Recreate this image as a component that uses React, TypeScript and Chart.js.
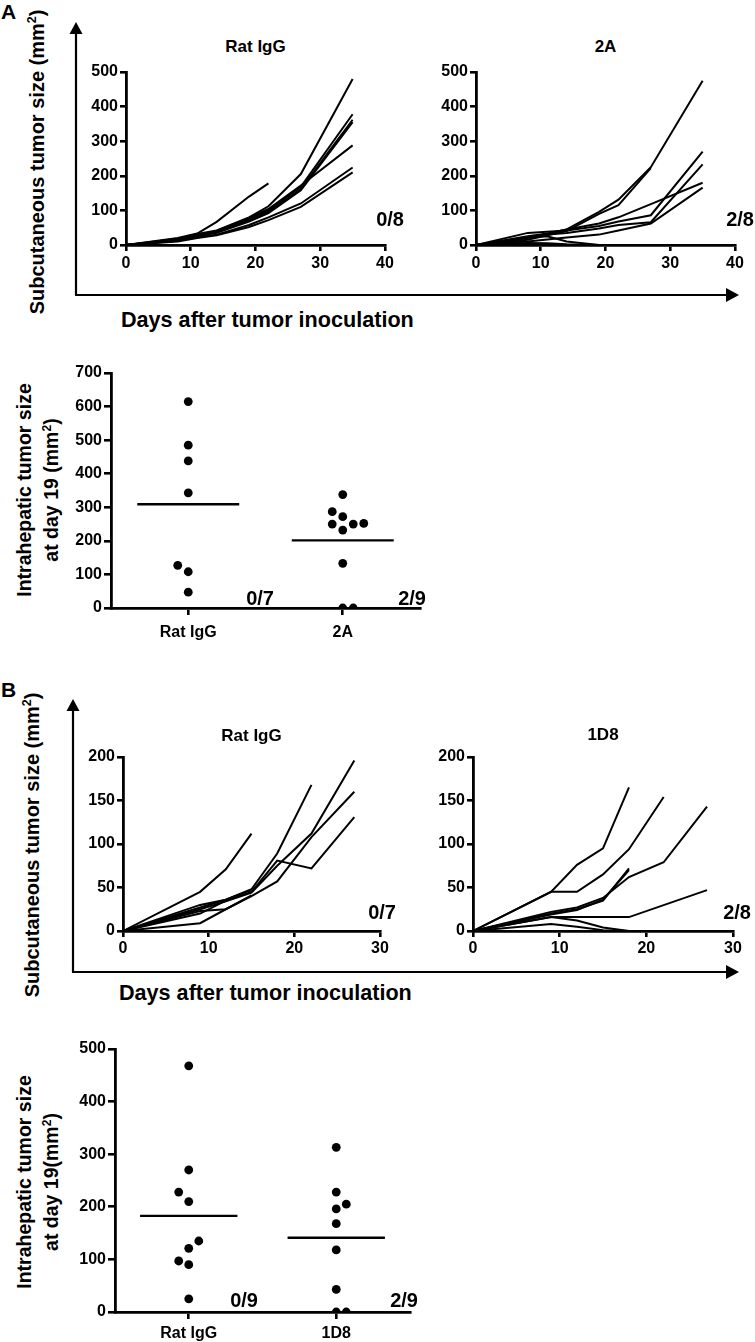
import React, { useEffect, useRef } from 'react';
import { Chart, registerables } from 'chart.js';

Chart.register(...registerables);

const FONT = '"Liberation Sans", Arial, Helvetica, sans-serif';

// ---------------- Panel A : subcutaneous growth ----------------
const A_DAYS = [0, 8, 11, 14, 19, 22, 27, 35];
const A_X_TICKS = [0, 10, 20, 30, 40];
const A_Y_TICKS = [0, 100, 200, 300, 400, 500];
const A_RATIGG_MICE: (number | null)[][] = [
  [0, 18, 32, 42, 80, 112, 205, 480],
  [0, 15, 28, 38, 75, 100, 168, 378],
  [0, 14, 26, 36, 72, 96, 162, 362],
  [0, 13, 25, 35, 68, 92, 158, 355],
  [0, 16, 29, 40, 78, 104, 172, 288],
  [0, 12, 22, 30, 58, 80, 120, 224],
  [0, 10, 20, 28, 52, 72, 110, 210],
  [0, 20, 33, 67, 140, 178],
];
const A_2A_MICE: (number | null)[][] = [
  [0, 22, 32, 45, 96, 131, 225, 475],
  [0, 15, 28, 40, 90, 115, 222],
  [0, 35, 38, 42, 55, 68, 86, 270],
  [0, 20, 30, 35, 48, 58, 66, 233],
  [0, 10, 16, 22, 30, 42, 62, 166],
  [0, 25, 33, 45, 62, 80, 118, 180],
  [0, 22, 25, 10, 0],
  [0, 6, 5, 2, 0],
];
const A_TITLES = ['Rat IgG', '2A'];
const A_FREE = ['0/8', '2/8'];

// ---------------- Panel A : intrahepatic day 19 ----------------
const AS_GROUPS = ['Rat IgG', '2A'];
const AS_Y_TICKS = [0, 100, 200, 300, 400, 500, 600, 700];
const AS_RATIGG = [615, 485, 438, 343, 127, 108, 47];
const AS_RATIGG_COL = [0, 0, 0, 0, -1, 0, 0];
const AS_2A = [338, 287, 272, 250, 250, 252, 232, 133, 0, 0];
const AS_2A_COL = [0, -1, 0, -1, 1, 2, 0, 0, 0, 1];
const AS_FREE = ['0/7', '2/9'];

// ---------------- Panel B : subcutaneous growth ----------------
const B_DAYS = [0, 9, 12, 15, 18, 22, 27];
const B_X_TICKS = [0, 10, 20, 30];
const B_Y_TICKS = [0, 50, 100, 150, 200];
const B_RATIGG_MICE: (number | null)[][] = [
  [0, 45, 71, 112],
  [0, 30, 36, 48, 89, 168],
  [0, 25, 34, 44, 75, 112, 196],
  [0, 23, 25, 40, 57, 108, 160],
  [0, 20, 35, 45, 81, 72, 131],
  [0, 9, 25, 41],
  [0, 27, 36, 47],
];
const B_1D8_MICE: (number | null)[][] = [
  [0, 45, 76, 95, 165],
  [0, 45, 45, 65, 94, 154],
  [0, 22, 27, 38, 62, 79, 143],
  [0, 20, 25, 35, 72],
  [0, 16, 16, 16, 16, null, 47],
  [0, 19, 24, 36, 70],
  [0, 8, 5, 1, 0],
  [0, 16, 12, 4, 0],
];
const B_TITLES = ['Rat IgG', '1D8'];
const B_FREE = ['0/7', '2/8'];

// ---------------- Panel B : intrahepatic day 19 ----------------
const BS_GROUPS = ['Rat IgG', '1D8'];
const BS_Y_TICKS = [0, 100, 200, 300, 400, 500];
const BS_RATIGG = [468, 270, 228, 210, 135, 121, 97, 90, 25];
const BS_RATIGG_COL = [0, 0, -1, 0, 1, 0, -1, 0, 0];
const BS_1D8 = [313, 228, 205, 196, 168, 118, 43, 0, 0];
const BS_1D8_COL = [0, 0, 1, 0, 0, 0, 0, 0, 1];
const BS_FREE = ['0/9', '2/9'];

// ---------------- helpers ----------------
type Plot = { l: number; t: number; r: number; b: number };
type Geom = { plot: Plot; yW: number; xH: number; padR: number; padT: number };

function canvasRect(g: Geom) {
  return {
    left: g.plot.l - g.yW,
    top: g.plot.t - g.padT,
    width: g.plot.r - g.plot.l + g.yW + g.padR,
    height: g.plot.b - g.plot.t + g.padT + g.xH,
  };
}

function axis(isX: boolean, ticks: number[], size: number, tickLength: number, pad: number,
  opts: { min?: number; max?: number; label?: (v: number) => string } = {}) {
  return {
    type: 'linear',
    min: opts.min ?? ticks[0],
    max: opts.max ?? ticks[ticks.length - 1],
    afterBuildTicks: (s: any) => { s.ticks = ticks.map((v) => ({ value: v })); },
    afterFit: (s: any) => { if (isX) s.height = size; else s.width = size; },
    ticks: {
      color: '#000',
      font: { family: FONT, size: 16, weight: 'bold' },
      padding: pad,
      maxRotation: 0,
      autoSkip: false,
      callback: (v: number) => (opts.label ? opts.label(v) : String(v)),
    },
    grid: { drawOnChartArea: false, drawTicks: true, tickLength, color: '#000', lineWidth: 2.6 },
    border: { display: true, color: '#000', width: 2.8 },
  };
}

function lineConfig(days: number[], mice: (number | null)[][], xTicks: number[], yTicks: number[], g: Geom, xPad: number) {
  return {
    type: 'line',
    data: {
      datasets: mice.map((m) => ({
        data: m.map((v, i) => (v === null ? null : { x: days[i], y: v })).filter((p) => p !== null),
        borderColor: '#000',
        borderWidth: 2,
        pointRadius: 0,
        fill: false,
        tension: 0,
      })),
    },
    options: {
      animation: false,
      responsive: false,
      maintainAspectRatio: false,
      layout: { padding: { left: 0, right: g.padR, top: g.padT, bottom: 0 } },
      plugins: { legend: { display: false }, tooltip: { enabled: false }, title: { display: false } },
      scales: {
        x: axis(true, xTicks, g.xH, 6, xPad),
        y: axis(false, yTicks, g.yW, 6, 2),
      },
    },
  };
}

const JITTER = 0.068;
const MEAN_HALF = 0.33;

function scatterConfig(groups: string[], values: number[][], cols: number[][], yTicks: number[], g: Geom, xPad: number) {
  const datasets: any[] = [];
  values.forEach((vals, gi) => {
    datasets.push({
      type: 'scatter',
      data: vals.map((v, i) => ({ x: gi + 1 + cols[gi][i] * JITTER, y: v })),
      backgroundColor: '#000',
      borderWidth: 0,
      pointRadius: 4.4,
    });
    const mean = vals.reduce((a, b) => a + b, 0) / vals.length;
    datasets.push({
      type: 'line',
      data: [{ x: gi + 1 - MEAN_HALF, y: mean }, { x: gi + 1 + MEAN_HALF, y: mean }],
      borderColor: '#000',
      borderWidth: 2.4,
      pointRadius: 0,
      fill: false,
    });
  });
  return {
    type: 'scatter',
    data: { datasets },
    options: {
      animation: false,
      responsive: false,
      maintainAspectRatio: false,
      layout: { padding: { left: 0, right: g.padR, top: g.padT, bottom: 0 } },
      plugins: { legend: { display: false }, tooltip: { enabled: false } },
      scales: {
        x: axis(true, [1, 2], g.xH, 7, xPad, { min: 0.5, max: 2.5, label: (v) => groups[Math.round(v) - 1] ?? '' }),
        y: axis(false, yTicks, g.yW, 7, 2),
      },
    },
  };
}

function ChartCanvas({ config, g }: { config: any; g: Geom }) {
  const ref = useRef<HTMLCanvasElement>(null);
  const r = canvasRect(g);
  useEffect(() => {
    const chart = new Chart(ref.current as HTMLCanvasElement, config);
    return () => chart.destroy();
  }, []);
  return (
    <canvas
      ref={ref}
      width={r.width}
      height={r.height}
      style={{ position: 'absolute', left: r.left, top: r.top, width: r.width, height: r.height }}
    />
  );
}

function Txt({ x, y, size, children, anchor = 'middle', rotate = false, lh }: any) {
  const tx = anchor === 'start' ? '0' : anchor === 'end' ? '-100%' : '-50%';
  return (
    <div
      style={{
        position: 'absolute',
        left: x,
        top: y,
        transform: `translate(${tx}, -50%)${rotate ? ' rotate(-90deg)' : ''}`,
        fontFamily: FONT,
        fontWeight: 700,
        fontSize: size,
        lineHeight: `${lh ?? size}px`,
        whiteSpace: 'nowrap',
        textAlign: 'center',
        color: '#000',
      }}
    >
      {children}
    </div>
  );
}

const Sup = () => <sup style={{ fontSize: '0.62em', lineHeight: 0, verticalAlign: 'super' }}>2</sup>;

// geometry
const GA1: Geom = { plot: { l: 126, t: 72, r: 385, b: 245 }, yW: 46, xH: 30, padR: 22, padT: 14 };
const GA2: Geom = { plot: { l: 476, t: 72, r: 735, b: 245 }, yW: 46, xH: 30, padR: 18, padT: 14 };
const GAS: Geom = { plot: { l: 111, t: 373, r: 420, b: 608 }, yW: 46, xH: 32, padR: 20, padT: 14 };
const GB1: Geom = { plot: { l: 123, t: 757, r: 380, b: 931 }, yW: 46, xH: 30, padR: 22, padT: 14 };
const GB2: Geom = { plot: { l: 473, t: 757, r: 733, b: 931 }, yW: 46, xH: 30, padR: 18, padT: 14 };
const GBS: Geom = { plot: { l: 115, t: 1049, r: 410, b: 1312 }, yW: 46, xH: 30, padR: 20, padT: 14 };

function Arrow({ ox, oy, topY, rightX }: { ox: number; oy: number; topY: number; rightX: number }) {
  return (
    <g>
      <line x1={ox} y1={oy} x2={ox} y2={topY + 10} stroke="#000" strokeWidth={2.2} />
      <polygon points={`${ox},${topY} ${ox - 6.5},${topY + 12} ${ox + 6.5},${topY + 12}`} fill="#000" />
      <line x1={ox - 1} y1={oy} x2={rightX - 10} y2={oy} stroke="#000" strokeWidth={2.2} />
      <polygon points={`${rightX},${oy} ${rightX - 13},${oy - 7} ${rightX - 13},${oy + 7}`} fill="#000" />
    </g>
  );
}

export default function App() {
  const cx = (p: Plot) => (p.l + p.r) / 2;
  return (
    <div style={{ position: 'absolute', left: 0, top: 0, width: 755, height: 1342, background: '#fff', overflow: 'hidden' }}>
      <svg width={755} height={1342} style={{ position: 'absolute', left: 0, top: 0 }}>
        <Arrow ox={76} oy={295} topY={22} rightX={739} />
        <Arrow ox={73} oy={972} topY={699} rightX={739} />
      </svg>

      <ChartCanvas g={GA1} config={lineConfig(A_DAYS, A_RATIGG_MICE, A_X_TICKS, A_Y_TICKS, GA1, 3)} />
      <ChartCanvas g={GA2} config={lineConfig(A_DAYS, A_2A_MICE, A_X_TICKS, A_Y_TICKS, GA2, 3)} />
      <ChartCanvas g={GAS} config={scatterConfig(AS_GROUPS, [AS_RATIGG, AS_2A], [AS_RATIGG_COL, AS_2A_COL], AS_Y_TICKS, GAS, 8)} />
      <ChartCanvas g={GB1} config={lineConfig(B_DAYS, B_RATIGG_MICE, B_X_TICKS, B_Y_TICKS, GB1, 2)} />
      <ChartCanvas g={GB2} config={lineConfig(B_DAYS, B_1D8_MICE, B_X_TICKS, B_Y_TICKS, GB2, 2)} />
      <ChartCanvas g={GBS} config={scatterConfig(BS_GROUPS, [BS_RATIGG, BS_1D8], [BS_RATIGG_COL, BS_1D8_COL], BS_Y_TICKS, GBS, 5)} />

      {/* panel letters */}
      <Txt x={1} y={11} size={21} anchor="start">A</Txt>
      <Txt x={1} y={689} size={21} anchor="start">B</Txt>

      {/* panel A */}
      <Txt x={37} y={162} size={20} rotate>Subcutaneous tumor size (mm<Sup />)</Txt>
      <Txt x={cx(GA1.plot)} y={46} size={17}>{A_TITLES[0]}</Txt>
      <Txt x={cx(GA2.plot)} y={46} size={17}>{A_TITLES[1]}</Txt>
      <Txt x={404} y={219} size={20} anchor="end">{A_FREE[0]}</Txt>
      <Txt x={754} y={219} size={20} anchor="end">{A_FREE[1]}</Txt>
      <Txt x={121} y={320} size={21.6} anchor="start">Days after tumor inoculation</Txt>

      <Txt x={38} y={490} size={19.5} lh={27} rotate>
        Intrahepatic tumor size<br />at day 19 (mm<Sup />)
      </Txt>
      <Txt x={274} y={598} size={20} anchor="end">{AS_FREE[0]}</Txt>
      <Txt x={426} y={598} size={20} anchor="end">{AS_FREE[1]}</Txt>

      {/* panel B */}
      <Txt x={32} y={845} size={20} rotate>Subcutaneous tumor size (mm<Sup />)</Txt>
      <Txt x={cx(GB1.plot)} y={735} size={17}>{B_TITLES[0]}</Txt>
      <Txt x={cx(GB2.plot)} y={734} size={17}>{B_TITLES[1]}</Txt>
      <Txt x={396} y={912} size={20} anchor="end">{B_FREE[0]}</Txt>
      <Txt x={751} y={912} size={20} anchor="end">{B_FREE[1]}</Txt>
      <Txt x={119} y={993} size={21.6} anchor="start">Days after tumor inoculation</Txt>

      <Txt x={38} y={1182} size={19.5} lh={27} rotate>
        Intrahepatic tumor size<br />at day 19(mm<Sup />)
      </Txt>
      <Txt x={258} y={1300} size={20} anchor="end">{BS_FREE[0]}</Txt>
      <Txt x={418} y={1300} size={20} anchor="end">{BS_FREE[1]}</Txt>
    </div>
  );
}
